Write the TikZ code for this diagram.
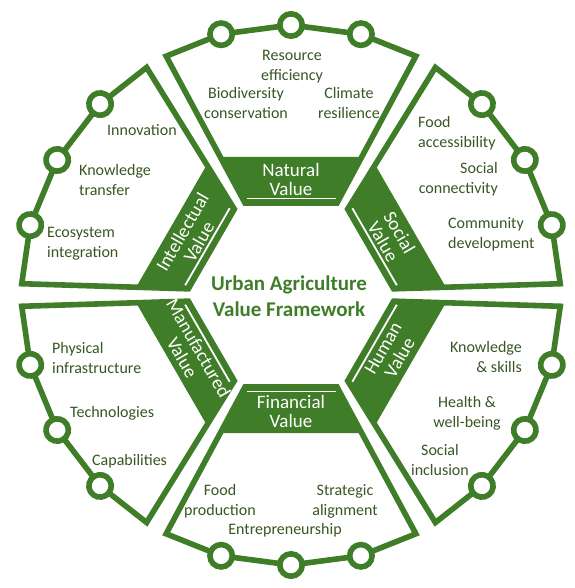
\documentclass[tikz,border=0pt]{standalone}
\usepackage{fontspec}
\setmainfont{Carlito}
\definecolor{ugreen}{HTML}{407D28}
\definecolor{utext}{HTML}{385723}
\begin{document}
\begin{tikzpicture}[x=1pt,y=1pt,
  segline/.style={draw=ugreen, line width=5.6pt, line join=miter, fill=white},
  bandfill/.style={fill=ugreen},
  ringline/.style={draw=ugreen, line width=5.6pt, fill=white},
  whiteline/.style={draw=white, line width=1.8pt},
  bandlbl/.style={text=white, font=\fontsize{19}{19}\selectfont, align=center, inner sep=0pt},
  itemlbl/.style={text=utext, font=\fontsize{16}{20}\selectfont, inner sep=0pt},
  titlelbl/.style={text=ugreen, font=\fontsize{21}{26}\selectfont\bfseries, align=center, inner sep=0pt, anchor=north},
  ]
\useasboundingbox (-291,-293) rectangle (283,295);
\foreach \rot/\sid/\lab/\trot in {0/nat/{Natural\\Value}/0, -60/soc/{Social\\Value}/-60, -120/hum/{Human\\Value}/60, 180/fin/{Financial\\Value}/0, 120/man/{Manufactured\\Value}/-60, 60/int/{Intellectual\\Value}/60}{
  \begin{scope}[rotate=\rot]
    \coordinate (\sid-ol) at (117.6:269.5);
    \coordinate (\sid-or) at (62.4:269.5);
    \coordinate (\sid-c1) at (105:270);
    \coordinate (\sid-c2) at (90:270);
    \coordinate (\sid-c3) at (75:270);
    \coordinate (\sid-il) at (-46,92);
    \coordinate (\sid-ir) at (46,92);
    \coordinate (\sid-bl) at (-70.7,138);
    \coordinate (\sid-br) at (70.7,138);
    \coordinate (\sid-wl) at (-44.5,96.5);
    \coordinate (\sid-wr) at (44.5,96.5);
    \draw[segline] (\sid-il) -- (\sid-ol) -- (\sid-c1) -- (\sid-c2) -- (\sid-c3) -- (\sid-or) -- (\sid-ir) -- cycle;
    \fill[bandfill] (\sid-il) -- (\sid-bl) -- (\sid-br) -- (\sid-ir) -- cycle;
    \draw[whiteline] (\sid-wl) -- (\sid-wr);
    \draw[ringline] (\sid-c1) circle[radius=11.2];
    \draw[ringline] (\sid-c2) circle[radius=11.2];
    \draw[ringline] (\sid-c3) circle[radius=11.2];
    \node[bandlbl, rotate=\trot] (\sid-lab) at (0,116) {\lab};
  \end{scope}
}
% Natural
\node[itemlbl, anchor=north, align=center] (t1) at (1,249) {\strut Resource\\efficiency};
\node[itemlbl, anchor=north, align=center] (t2) at (-45,211) {\strut Biodiversity\\conservation};
\node[itemlbl, anchor=north, align=center] (t3) at (58,211) {\strut Climate\\resilience};
% Social
\node[itemlbl, anchor=north west, align=left] (t4) at (127,182) {\strut Food\\accessibility};
\node[itemlbl, anchor=north east, align=right] (t5) at (207,136) {\strut Social\\connectivity};
\node[itemlbl, anchor=north west, align=left] (t6) at (157,81) {\strut Community\\development};
% Intellectual
\node[itemlbl, anchor=north west, align=left] (t7) at (-184,174) {\strut Innovation};
\node[itemlbl, anchor=north west, align=left] (t8) at (-212,134) {\strut Knowledge\\transfer};
\node[itemlbl, anchor=north west, align=left] (t9) at (-244,72) {\strut Ecosystem\\integration};
% Manufactured
\node[itemlbl, anchor=north west, align=left] (t10) at (-239,-44) {\strut Physical\\infrastructure};
\node[itemlbl, anchor=north west, align=left] (t11) at (-221,-108) {\strut Technologies};
\node[itemlbl, anchor=north west, align=left] (t12) at (-199,-156) {\strut Capabilities};
% Financial
\node[itemlbl, anchor=north, align=center] (t13) at (-71,-186) {\strut Food\\production};
\node[itemlbl, anchor=north, align=center] (t14) at (-6,-225) {\strut Entrepreneurship};
\node[itemlbl, anchor=north, align=center] (t15) at (54,-186) {\strut Strategic\\alignment};
% Human
\node[itemlbl, anchor=north east, align=right] (t16) at (231,-43) {\strut Knowledge\\\& skills};
\node[itemlbl, anchor=north, align=center] (t17) at (176,-98) {\strut Health \&\\well-being};
\node[itemlbl, anchor=north, align=center] (t18) at (149,-146) {\strut Social\\inclusion};
% Title
\node[titlelbl] (title) at (-2,23.2) {\strut Urban Agriculture\\Value Framework};
\end{tikzpicture}
\end{document}
